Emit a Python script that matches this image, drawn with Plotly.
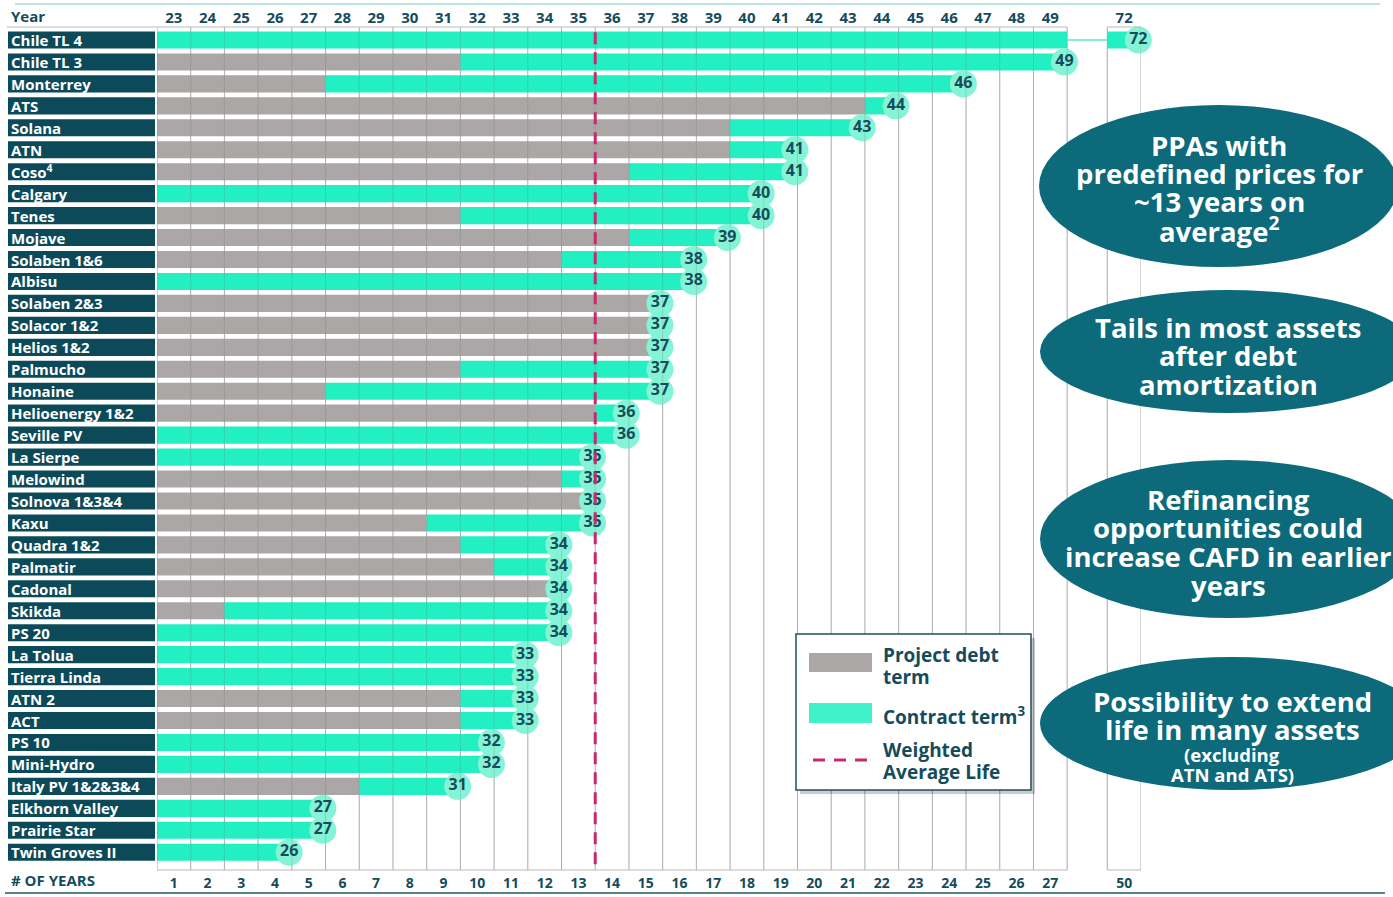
import plotly.graph_objects as go

# ---------------- data ----------------
projects = ["Chile TL 4", "Chile TL 3", "Monterrey", "ATS", "Solana", "ATN", "Coso<sup>4</sup>",
            "Calgary", "Tenes", "Mojave", "Solaben 1&6", "Albisu", "Solaben 2&3", "Solacor 1&2",
            "Helios 1&2", "Palmucho", "Honaine", "Helioenergy 1&2", "Seville PV", "La Sierpe",
            "Melowind", "Solnova 1&3&4", "Kaxu", "Quadra 1&2", "Palmatir", "Cadonal", "Skikda",
            "PS 20", "La Tolua", "Tierra Linda", "ATN 2", "ACT", "PS 10", "Mini-Hydro",
            "Italy PV 1&2&3&4", "Elkhorn Valley", "Prairie Star", "Twin Groves II"]
# end year of each asset (as printed in the circles)
end_year = [72, 49, 46, 44, 43, 41, 41, 40, 40, 39, 38, 38, 37, 37, 37, 37, 37, 36, 36, 35,
            35, 35, 35, 34, 34, 34, 34, 34, 33, 33, 33, 33, 32, 32, 31, 27, 27, 26]
# length of project debt term in years (grey part)
debt_term = [0, 9, 5, 21, 17, 17, 14, 0, 9, 14, 12, 0, 15, 15, 15, 9, 5, 13, 0, 0,
             12, 13, 8, 9, 10, 12, 2, 0, 0, 0, 9, 9, 0, 0, 6, 0, 0, 0]
year_labels = ["23", "24", "25", "26", "27", "28", "29", "30", "31", "32", "33", "34", "35",
               "36", "37", "38", "39", "40", "41", "42", "43", "44", "45", "46", "47", "48",
               "49", "72"]
count_labels = ["1", "2", "3", "4", "5", "6", "7", "8", "9", "10", "11", "12", "13", "14",
                "15", "16", "17", "18", "19", "20", "21", "22", "23", "24", "25", "26", "27",
                "50"]
first_year_offset = 22          # year label = offset + number of years
weighted_average_life = 13

# ---------------- styling / geometry ----------------
W, H = 1393, 897
ML, MR, MT, MB = 157, 252, 27, 27
MAIN_COLS = 27
BREAK_START = 28.19
X_MAX = BREAK_START + 1
PW = W - ML - MR
PH = H - MT - MB
N = len(projects)
Y_TOP = -0.592
Y_BOT = 37.81

GREY = "#aaa7a6"
TEAL = "#22efc2"
MINT = "#84f3d6"
DARK = "#0c4a5a"
TXT = "#154c5b"
ELL = "#0d6a7b"
MAG = "#c9286f"
FONT = "Open Sans"


def to_x(n):
    """broken axis: years beyond the main range go to the extra column"""
    return n if n <= MAIN_COLS else BREAK_START + (n - (MAIN_COLS + first_year_offset))


def px(p):
    return (p - ML) / PW


def py(p):
    return (H - MB - p) / PH


def d2p(x):
    return x / X_MAX


counts = [e - first_year_offset for e in end_year]
rows = list(range(N))

fig = go.Figure()

# grey debt bars
fig.add_trace(go.Bar(orientation="h", y=rows, x=[min(d, MAIN_COLS) for d in debt_term],
                     base=0, width=0.78, marker=dict(color=GREY, line=dict(width=0)),
                     hoverinfo="skip", showlegend=False))
# teal contract bars (main section)
fig.add_trace(go.Bar(orientation="h", y=rows,
                     x=[min(c, MAIN_COLS) - d for c, d in zip(counts, debt_term)],
                     base=debt_term, width=0.78, marker=dict(color=TEAL, line=dict(width=0)),
                     hoverinfo="skip", showlegend=False))
# teal bars in the broken section
brk_rows = [r for r, c in zip(rows, counts) if c > MAIN_COLS]
brk_len = [to_x(c) - BREAK_START for c in counts if c > MAIN_COLS]
fig.add_trace(go.Bar(orientation="h", y=brk_rows, x=brk_len, base=BREAK_START, width=0.78,
                     marker=dict(color=TEAL, line=dict(width=0)), hoverinfo="skip",
                     showlegend=False))
for r in brk_rows:
    fig.add_trace(go.Scatter(x=[MAIN_COLS, BREAK_START], y=[r, r], mode="lines",
                             line=dict(color="#5fe6c8", width=1.5), hoverinfo="skip",
                             showlegend=False))

# value circles
fig.add_trace(go.Scatter(x=[to_x(c) - 0.08 for c in counts], y=rows, mode="markers+text",
                         marker=dict(size=27, color=MINT, line=dict(width=0)),
                         text=[str(e) for e in end_year], textposition="middle center",
                         textfont=dict(family=FONT, size=16, color=TXT, weight="bold"),
                         hoverinfo="skip", showlegend=False, cliponaxis=False))
# dummy trace for the bottom axis
fig.add_trace(go.Scatter(x=[0], y=[0], xaxis="x2", mode="markers",
                         marker=dict(opacity=0), hoverinfo="skip", showlegend=False))

shapes = []
annotations = []

# grid
grid_x = list(range(0, MAIN_COLS + 1)) + [BREAK_START, BREAK_START + 1]
for gx in grid_x:
    shapes.append(dict(type="line", xref="x", yref="paper", x0=gx, x1=gx, y0=0, y1=1,
                       line=dict(color="#c2c2c2", width=1), layer="below"))
    shapes.append(dict(type="line", xref="x", yref="paper", x0=gx, x1=gx, y0=0, y1=1,
                       line=dict(color="rgba(110,110,110,0.22)", width=1), layer="above"))
# top/bottom grid borders
shapes.append(dict(type="line", xref="paper", yref="paper", x0=px(7), x1=d2p(MAIN_COLS),
                   y0=1, y1=1, line=dict(color="#b9b9b9", width=1.2)))
shapes.append(dict(type="line", xref="paper", yref="paper", x0=d2p(0), x1=d2p(MAIN_COLS),
                   y0=0, y1=0, line=dict(color="#b9b9b9", width=1.2)))
for yy in (0, 1):
    shapes.append(dict(type="line", xref="paper", yref="paper", x0=d2p(BREAK_START),
                       x1=d2p(BREAK_START + 1), y0=yy, y1=yy,
                       line=dict(color="#b9b9b9", width=1.2)))

# frame lines
shapes.append(dict(type="line", xref="paper", yref="paper", x0=px(15), x1=px(1380),
                   y0=py(4), y1=py(4), line=dict(color="#a7dcd8", width=1.5)))
shapes.append(dict(type="line", xref="paper", yref="paper", x0=px(5), x1=px(1385),
                   y0=py(893), y1=py(893), line=dict(color="#1d5a68", width=1.5)))

# weighted average life
shapes.append(dict(type="line", xref="x", yref="y", x0=weighted_average_life,
                   x1=weighted_average_life, y0=-0.35, y1=37.62,
                   line=dict(color=MAG, width=3, dash="12px,8px"), layer="above"))

# row label boxes
for i, name in enumerate(projects):
    shapes.append(dict(type="rect", xref="paper", yref="y", x0=px(8), x1=px(155),
                       y0=i - 0.39, y1=i + 0.39, fillcolor=DARK, line=dict(width=0),
                       layer="above"))
    annotations.append(dict(xref="paper", yref="y", x=px(9), y=i, text=name,
                            xanchor="left", yanchor="middle", showarrow=False,
                            font=dict(family=FONT, size=15, color="white", weight="bold")))

annotations.append(dict(xref="paper", yref="paper", x=px(9), y=py(16), text="Year",
                        xanchor="left", yanchor="middle", showarrow=False,
                        font=dict(family=FONT, size=15, color=TXT, weight="bold")))
annotations.append(dict(xref="paper", yref="paper", x=px(9), y=py(880), text="# OF YEARS",
                        xanchor="left", yanchor="middle", showarrow=False,
                        font=dict(family=FONT, size=15, color=TXT, weight="bold")))

# legend box
shapes.append(dict(type="rect", xref="paper", yref="paper", x0=px(800), x1=px(1035),
                   y0=py(638), y1=py(794), fillcolor="rgba(0,0,0,0.2)", line=dict(width=0),
                   layer="above"))
shapes.append(dict(type="rect", xref="paper", yref="paper", x0=px(796), x1=px(1031),
                   y0=py(634), y1=py(790), fillcolor="white",
                   line=dict(color="#1d4f5c", width=1.5), layer="above"))
shapes.append(dict(type="rect", xref="paper", yref="paper", x0=px(809), x1=px(872),
                   y0=py(653), y1=py(672), fillcolor=GREY, line=dict(width=0), layer="above"))
shapes.append(dict(type="rect", xref="paper", yref="paper", x0=px(809), x1=px(872),
                   y0=py(703), y1=py(723), fillcolor="#40f2c8", line=dict(width=0),
                   layer="above"))
shapes.append(dict(type="line", xref="paper", yref="paper", x0=px(813), x1=px(868),
                   y0=py(760), y1=py(760), line=dict(color=MAG, width=3, dash="12px,9px"),
                   layer="above"))
for t, yy in [("Project debt", 655), ("term", 677), ("Contract term<sup>3</sup>", 716),
              ("Weighted", 750), ("Average Life", 772)]:
    annotations.append(dict(xref="paper", yref="paper", x=px(881), y=py(yy), text=t,
                            xanchor="left", yanchor="middle", showarrow=False,
                            font=dict(family=FONT, size=19, color=TXT, weight="bold")))

# callout ellipses
FS = 27.5
ellipses = [
    (1039, 1398, 105, 267, 1219,
     [("PPAs with", 145, FS), ("predefined prices for", 173, FS), ("~13 years on", 201, FS),
      ("average<sup>2</sup>", 229, FS)]),
    (1040, 1416, 290, 413, 1228,
     [("Tails in most assets", 328, FS), ("after debt", 356, FS), ("amortization", 385, FS)]),
    (1040, 1418, 460, 618, 1228,
     [("Refinancing", 499, FS), ("opportunities could", 527, FS),
      ("increase CAFD in earlier", 556, FS), ("years", 585, FS)]),
    (1040, 1424, 657, 790, 1232,
     [("Possibility to extend", 701, FS), ("life in many assets", 729, FS),
      ("(excluding", 754, 18.5), ("ATN and ATS)", 774, 18.5)]),
]
for x0, x1, y0, y1, cx, lines in ellipses:
    shapes.append(dict(type="circle", xref="paper", yref="paper", x0=px(x0), x1=px(x1),
                       y0=py(y0), y1=py(y1), fillcolor=ELL, line=dict(width=0),
                       layer="above"))
    for t, yy, fs in lines:
        annotations.append(dict(xref="paper", yref="paper", x=px(cx), y=py(yy), text=t,
                                xanchor="center", yanchor="middle", showarrow=False,
                                font=dict(family=FONT, size=fs, color="white",
                                          weight="bold")))

tick_pos = [k - 0.5 for k in range(1, MAIN_COLS + 1)] + [BREAK_START + 0.5]

fig.update_layout(
    width=W, height=H, autosize=False,
    margin=dict(l=ML, r=MR, t=MT, b=MB, pad=0, autoexpand=False),
    plot_bgcolor="white", paper_bgcolor="white",
    barmode="overlay",
    font=dict(family=FONT, color=TXT),
    xaxis=dict(range=[0, X_MAX], side="top", tickmode="array", tickvals=tick_pos,
               ticktext=year_labels, showgrid=False, zeroline=False, showline=False,
               ticks="", tickfont=dict(family=FONT, size=15, color=TXT, weight="bold"),
               fixedrange=True, automargin=False),
    xaxis2=dict(range=[0, X_MAX], overlaying="x", side="bottom", anchor="y",
                tickmode="array", tickvals=tick_pos, ticktext=count_labels,
                showgrid=False, zeroline=False, showline=False, ticks="",
                tickfont=dict(family=FONT, size=14, color=TXT, weight="bold"),
                ticklabelstandoff=3, fixedrange=True, automargin=False),
    yaxis=dict(range=[Y_BOT, Y_TOP], visible=False, fixedrange=True, automargin=False),
    shapes=shapes,
    annotations=annotations,
)

fig.write_html("out.html", config={"displayModeBar": False},
               post_script="document.body.style.margin='0px';"
                           "document.body.style.padding='0px';"
                           "document.body.style.overflow='hidden';")
